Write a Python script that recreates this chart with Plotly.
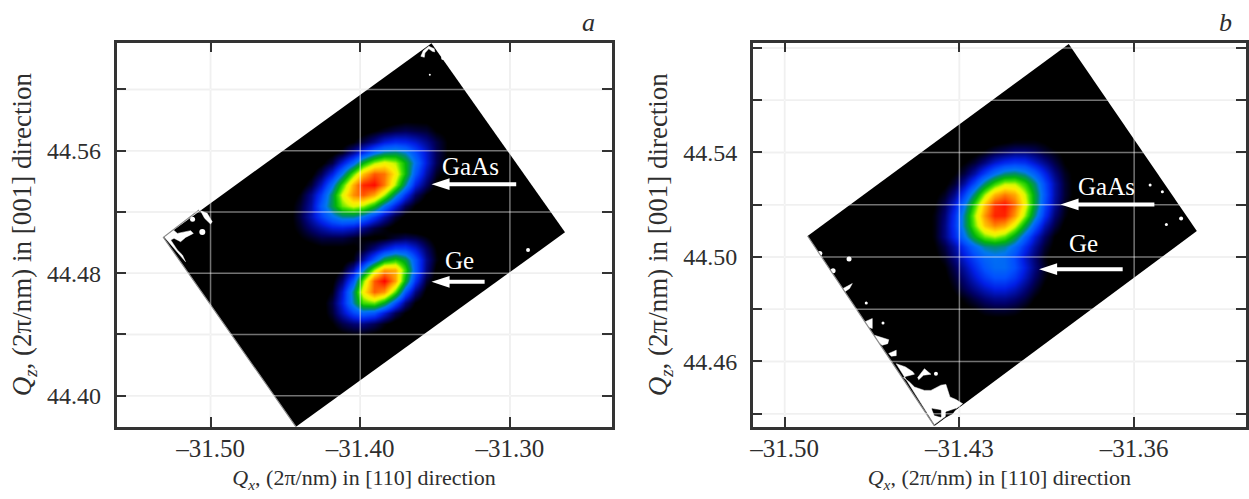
import plotly.graph_objects as go

W, H = 1249, 499
INK = "#2e2e2e"
FONT = "Liberation Serif"

# ---------- Panel a: axes ----------
a_xrange = [-31.5628, -31.2321]
a_yrange = [44.3798, 44.6305]
a_xticks = [-31.50, -31.40, -31.30]
a_xlabels = ["–31.50", "–31.40", "–31.30"]
a_yticks = [44.40, 44.48, 44.56]
a_ylabels = ["44.40", "44.48", "44.56"]
a_yminor = [44.44, 44.52, 44.60]

# scan footprint corners (left, top, right, bottom)
a_frame_x = [-31.5315, -31.3524, -31.2632, -31.4429]
a_frame_y = [44.5034, 44.6302, 44.5067, 44.3797]

# intensity, 0-100, rows from high Qz to low Qz
a_qx = [-31.454, -31.447, -31.440, -31.433, -31.426, -31.419, -31.412, -31.405, -31.398, -31.391,
        -31.384, -31.377, -31.370, -31.363, -31.356, -31.349, -31.342, -31.335, -31.328]
a_qz = [44.580, 44.573, 44.566, 44.559, 44.552, 44.545, 44.538, 44.531, 44.524, 44.517, 44.510,
        44.503, 44.496, 44.489, 44.482, 44.475, 44.468, 44.461, 44.454, 44.447, 44.440]
a_intensity = [
    [0, 0, 0, 0, 0, 0, 0, 0, 0, 0, 1, 2, 3, 3, 3, 2, 1, 0, 0],
    [0, 0, 0, 0, 0, 0, 0, 1, 2, 4, 6, 8, 9, 8, 7, 4, 3, 1, 0],
    [0, 0, 0, 0, 0, 1, 2, 4, 8, 13, 19, 22, 21, 18, 13, 8, 4, 2, 0],
    [0, 0, 0, 0, 1, 3, 6, 14, 23, 34, 41, 43, 38, 28, 18, 9, 4, 2, 0],
    [0, 0, 0, 1, 3, 8, 19, 32, 50, 63, 69, 64, 50, 34, 19, 9, 3, 1, 0],
    [0, 0, 1, 3, 9, 20, 36, 59, 78, 90, 87, 71, 51, 29, 15, 6, 2, 1, 0],
    [0, 1, 2, 7, 17, 34, 56, 80, 96, 99, 86, 63, 40, 20, 10, 3, 1, 0, 0],
    [1, 2, 5, 13, 25, 44, 67, 84, 90, 81, 63, 40, 23, 10, 4, 1, 0, 0, 0],
    [1, 3, 7, 15, 30, 45, 60, 67, 63, 51, 34, 20, 9, 4, 1, 0, 0, 0, 0],
    [1, 3, 8, 16, 25, 34, 40, 40, 34, 24, 15, 7, 3, 1, 0, 0, 0, 0, 0],
    [1, 3, 6, 11, 15, 19, 20, 18, 13, 8, 5, 2, 1, 0, 0, 0, 0, 0, 0],
    [1, 2, 4, 6, 8, 8, 8, 6, 4, 3, 4, 7, 9, 8, 5, 2, 0, 0, 0],
    [1, 1, 2, 2, 3, 3, 3, 3, 6, 12, 19, 25, 25, 19, 10, 4, 1, 0, 0],
    [0, 0, 0, 0, 1, 1, 2, 5, 15, 30, 47, 54, 46, 29, 13, 5, 1, 0, 0],
    [0, 0, 0, 0, 0, 1, 5, 15, 36, 63, 82, 80, 56, 30, 12, 3, 1, 0, 0],
    [0, 0, 0, 0, 1, 3, 11, 29, 61, 90, 100, 82, 49, 23, 7, 2, 0, 0, 0],
    [0, 0, 0, 0, 1, 5, 18, 41, 71, 89, 83, 58, 29, 12, 3, 1, 0, 0, 0],
    [0, 0, 0, 0, 2, 8, 20, 39, 57, 60, 48, 28, 12, 4, 1, 0, 0, 0, 0],
    [0, 0, 0, 0, 2, 7, 16, 26, 32, 29, 19, 9, 4, 1, 0, 0, 0, 0, 0],
    [0, 0, 0, 0, 2, 4, 8, 11, 12, 9, 5, 2, 1, 0, 0, 0, 0, 0, 0],
    [0, 0, 0, 0, 1, 2, 3, 4, 4, 3, 2, 1, 0, 0, 0, 0, 0, 0, 0],
]

# unmeasured (white) patches
a_blank_patches = [
    [(-31.5310, 44.5038), (-31.5248, 44.5082), (-31.5222, 44.5060), (-31.5133, 44.5078), (-31.5115, 44.5060),
     (-31.5167, 44.5034), (-31.5200, 44.5006), (-31.5244, 44.5028), (-31.5266, 44.5017), (-31.5222, 44.4952),
     (-31.5188, 44.4919), (-31.5167, 44.4875)],
    [(-31.5067, 44.5208), (-31.5022, 44.5191), (-31.4989, 44.5136), (-31.5000, 44.5121), (-31.5040, 44.5159)],
    [(-31.3595, 44.6216), (-31.3579, 44.6253), (-31.3542, 44.6282), (-31.3506, 44.6266), (-31.3502, 44.6245),
     (-31.3519, 44.6249), (-31.3542, 44.6266), (-31.3568, 44.6238), (-31.3572, 44.6210)],
]
a_speck_x = [-31.5055, -31.5120, -31.3446, -31.3535, -31.2879]
a_speck_y = [44.5069, 44.5152, 44.6205, 44.6096, 44.4952]
a_speck_size = [6, 5, 4, 2, 4]
a_edge_x = [-31.5077, -31.5315, -31.4429]
a_edge_y = [44.5213, 44.5034, 44.3797]

a_text_labels = ["GaAs", "Ge"]
a_text_x = [-31.3264, -31.3338]
a_text_y = [44.5494, 44.4886]
a_arrow_tail_x = [-31.2958, -31.3169]
a_arrow_neck_x = [-31.3455, -31.3455]
a_arrow_head_x = [-31.3524, -31.3524]
a_arrow_y = [44.5381, 44.4744]

# ---------- Panel b: axes ----------
b_xrange = [-31.5128, -31.3152]
b_yrange = [44.4350, 44.5820]
b_xticks = [-31.50, -31.43, -31.36]
b_xlabels = ["–31.50", "–31.43", "–31.36"]
b_yticks = [44.46, 44.50, 44.54]
b_ylabels = ["44.46", "44.50", "44.54"]
b_yminor = [44.44, 44.48, 44.52, 44.56, 44.58]

b_frame_x = [-31.4908, -31.3862, -31.3349, -31.4400]
b_frame_y = [44.5080, 44.5815, 44.5099, 44.4353]

b_qx = [-31.448, -31.444, -31.440, -31.436, -31.432, -31.428, -31.424, -31.420, -31.416,
        -31.412, -31.408, -31.404, -31.400, -31.396, -31.392, -31.388, -31.384, -31.380]
b_qz = [44.556, 44.552, 44.548, 44.544, 44.540, 44.536, 44.532, 44.528, 44.524, 44.520, 44.516, 44.512,
        44.508, 44.504, 44.500, 44.496, 44.492, 44.488, 44.484, 44.480, 44.476, 44.472, 44.468]
b_intensity = [
    [0, 0, 0, 0, 0, 0, 0, 0, 0, 0, 0, 0, 0, 0, 0, 0, 0, 0],
    [0, 0, 0, 0, 0, 0, 0, 0, 0, 0, 0, 0, 0, 0, 0, 0, 0, 0],
    [0, 0, 0, 0, 0, 0, 0, 0, 1, 1, 2, 2, 2, 1, 1, 0, 0, 0],
    [0, 0, 0, 0, 0, 0, 1, 2, 3, 4, 5, 5, 5, 4, 2, 1, 1, 0],
    [0, 0, 0, 0, 1, 1, 3, 5, 8, 10, 12, 12, 10, 7, 5, 3, 1, 0],
    [0, 0, 0, 1, 2, 4, 7, 12, 18, 22, 24, 23, 18, 13, 8, 4, 2, 1],
    [0, 0, 1, 2, 4, 8, 15, 25, 34, 41, 43, 39, 31, 21, 12, 6, 3, 1],
    [0, 0, 1, 3, 7, 15, 27, 42, 55, 64, 64, 55, 42, 27, 15, 7, 3, 1],
    [0, 1, 3, 6, 13, 26, 43, 63, 79, 86, 81, 66, 47, 29, 15, 7, 3, 1],
    [0, 1, 4, 9, 19, 35, 56, 77, 94, 98, 88, 70, 47, 27, 14, 6, 2, 1],
    [1, 2, 5, 11, 23, 41, 63, 83, 96, 96, 83, 63, 41, 23, 11, 5, 2, 1],
    [1, 2, 5, 12, 24, 41, 60, 77, 85, 81, 67, 48, 30, 16, 8, 3, 1, 0],
    [1, 2, 5, 12, 22, 35, 49, 60, 64, 59, 47, 32, 19, 10, 4, 2, 1, 0],
    [1, 2, 4, 8, 15, 24, 33, 40, 42, 40, 33, 23, 14, 7, 3, 1, 0, 0],
    [1, 1, 3, 6, 12, 19, 26, 32, 34, 33, 27, 18, 11, 5, 2, 0, 0, 0],
    [0, 1, 2, 4, 9, 15, 22, 29, 33, 33, 28, 20, 12, 6, 2, 1, 0, 0],
    [0, 1, 1, 3, 7, 12, 18, 24, 28, 28, 24, 17, 10, 5, 2, 0, 0, 0],
    [0, 0, 1, 2, 5, 9, 13, 17, 20, 20, 17, 12, 7, 3, 1, 0, 0, 0],
    [0, 0, 1, 1, 3, 5, 8, 11, 13, 13, 11, 8, 4, 2, 1, 0, 0, 0],
    [0, 0, 0, 1, 2, 3, 4, 6, 7, 7, 6, 4, 2, 1, 0, 0, 0, 0],
    [0, 0, 0, 0, 1, 1, 2, 3, 3, 3, 3, 2, 1, 0, 0, 0, 0, 0],
    [0, 0, 0, 0, 0, 1, 1, 1, 1, 1, 1, 1, 0, 0, 0, 0, 0, 0],
    [0, 0, 0, 0, 0, 0, 0, 0, 0, 0, 0, 0, 0, 0, 0, 0, 0, 0],
]

b_blank_patches = [
    [(-31.4553, 44.4591), (-31.4516, 44.4579), (-31.4487, 44.4560), (-31.4480, 44.4551), (-31.4513, 44.4543),
     (-31.4524, 44.4538), (-31.4500, 44.4521), (-31.4480, 44.4502), (-31.4440, 44.4489), (-31.4414, 44.4489),
     (-31.4374, 44.4509), (-31.4354, 44.4512), (-31.4338, 44.4464), (-31.4314, 44.4454), (-31.4287, 44.4438),
     (-31.4400, 44.4358)],
    [(-31.4467, 44.4538), (-31.4440, 44.4572), (-31.4414, 44.4551), (-31.4444, 44.4547), (-31.4463, 44.4530)],
    [(-31.4640, 44.4700), (-31.4583, 44.4683), (-31.4587, 44.4668), (-31.4609, 44.4662), (-31.4626, 44.4674)],
    [(-31.4766, 44.4879), (-31.4729, 44.4898), (-31.4740, 44.4879), (-31.4760, 44.4866)],
    [(-31.4680, 44.4751), (-31.4649, 44.4764), (-31.4649, 44.4726), (-31.4666, 44.4732)],
    [(-31.4583, 44.4630), (-31.4553, 44.4643), (-31.4553, 44.4622), (-31.4573, 44.4620)],
]
b_dark_holes = [
    [(-31.4410, 44.4419), (-31.4374, 44.4413), (-31.4374, 44.4387), (-31.4400, 44.4394)],
    [(-31.4354, 44.4406), (-31.4314, 44.4419), (-31.4327, 44.4400), (-31.4354, 44.4387)],
]
b_speck_x = [-31.4742, -31.4806, -31.4673, -31.4606, -31.4394, -31.4859, -31.3536, -31.3487, -31.3412, -31.3471]
b_speck_y = [44.4992, 44.4947, 44.4824, 44.4747, 44.4553, 44.5013, 44.5275, 44.5249, 44.5147, 44.5124]
b_speck_size = [5, 5, 3, 3, 4, 5, 3, 3, 4, 3]
b_edge_x = [-31.4908, -31.4400]
b_edge_y = [44.5080, 44.4353]

b_text_labels = ["GaAs", "Ge"]
b_text_x = [-31.3710, -31.3802]
b_text_y = [44.5271, 44.5053]
b_arrow_tail_x = [-31.3519, -31.3646]
b_arrow_neck_x = [-31.3853, -31.3939]
b_arrow_head_x = [-31.3895, -31.3981]
b_arrow_y = [44.5201, 44.4953]

# colour map
jet_stops = [0, 0.02, 0.04, 0.10, 0.20, 0.28, 0.36, 0.42, 0.50, 0.58, 0.66, 0.72, 0.82, 0.92, 1.0]
jet_colors = ["rgba(0,0,0,0)", "rgba(0,0,0,0)", "rgb(0,0,0)", "rgb(0,0,100)", "rgb(0,30,230)", "rgb(0,80,255)",
              "rgb(0,120,240)", "rgb(0,140,110)", "rgb(0,180,10)", "rgb(70,225,0)", "rgb(220,250,0)",
              "rgb(255,235,0)", "rgb(255,160,0)", "rgb(255,70,0)", "rgb(255,0,0)"]

a_domain_x = [114 / W, 611 / W]
b_domain_x = [752.7 / W, 1248 / W]
domain_y = [1 - 426.7 / H, 1 - 42.7 / H]

fig = go.Figure()
fig.update_layout(
    width=W, height=H, autosize=False, showlegend=False, hovermode=False,
    margin=dict(l=0, r=0, t=0, b=0), paper_bgcolor="white", plot_bgcolor="white",
    font=dict(family=FONT, color=INK, size=24),
)


def join(patches, i):
    out = []
    for p in patches:
        out += [pt[i] for pt in p] + [p[0][i], None]
    return out


def panel(suffix, dom, xr, yr, xt, xl, yt, yl, ym, fx, fy, qx, qz, z, patches, holes, sx, sy, ss, ex, ey,
          tl, tx, ty, atail, aneck, ahead, ay, letter, letter_x):
    xa, ya = "x" + suffix, "y" + suffix
    fig.add_trace(go.Heatmap(x=qx, y=qz, z=z, zmin=0, zmax=100, zsmooth="best", showscale=False,
                             colorscale=[[s, c] for s, c in zip(jet_stops, jet_colors)], xaxis=xa, yaxis=ya))
    if patches:
        fig.add_trace(go.Scatter(x=join(patches, 0), y=join(patches, 1), mode="lines", fill="toself",
                                 fillcolor="white", line=dict(color="white", width=0.5), xaxis=xa, yaxis=ya))
    if holes:
        fig.add_trace(go.Scatter(x=join(holes, 0), y=join(holes, 1), mode="lines", fill="toself",
                                 fillcolor="black", line=dict(color="black", width=0.5), xaxis=xa, yaxis=ya))
    fig.add_trace(go.Scatter(x=sx, y=sy, mode="markers",
                             marker=dict(color="white", opacity=1, size=ss, line=dict(width=0)),
                             xaxis=xa, yaxis=ya))
    fig.add_trace(go.Scatter(x=ex, y=ey, mode="lines", line=dict(color="#8c8c8c", width=1.2), xaxis=xa, yaxis=ya))
    # grid: light on the white paper, lower in the stack than the black footprint ...
    all_y = sorted(list(yt) + list(ym))
    for v in xt:
        fig.add_shape(type="line", layer="below", xref=xa, yref=ya, x0=v, x1=v, y0=yr[0], y1=yr[1],
                      line=dict(color="#e3e3e3", width=1.5))
    for v in all_y:
        fig.add_shape(type="line", layer="below", xref=xa, yref=ya, x0=xr[0], x1=xr[1], y0=v, y1=v,
                      line=dict(color="#e3e3e3", width=1.5))
    fig.add_shape(type="path", layer="below", xref=xa, yref=ya, fillcolor="black", line=dict(width=0),
                  path="M " + " L ".join(f"{px} {py}" for px, py in zip(fx, fy)) + " Z")
    # ... and showing through the footprint as a translucent overlay
    gx, gy = [], []
    for v in xt:
        gx += [v, v, None]
        gy += [yr[0], yr[1], None]
    for v in all_y:
        gx += [xr[0], xr[1], None]
        gy += [v, v, None]
    fig.add_trace(go.Scatter(x=gx, y=gy, mode="lines", line=dict(color="rgba(255,255,255,0.45)", width=1.5),
                             xaxis=xa, yaxis=ya))

    # white arrows: shaft plus a left-pointing tip
    sx2, sy2 = [], []
    for t0, n0, y0 in zip(atail, aneck, ay):
        sx2 += [t0, n0, None]
        sy2 += [y0, y0, None]
    fig.add_trace(go.Scatter(x=sx2, y=sy2, mode="lines", line=dict(color="white", width=4), xaxis=xa, yaxis=ya))
    fig.add_trace(go.Scatter(x=ahead, y=ay, mode="markers", xaxis=xa, yaxis=ya,
                             marker=dict(symbol="arrow", angle=-90, size=19, color="white", line=dict(width=0))))

    for t, x, y in zip(tl, tx, ty):
        fig.add_annotation(text=t, x=x, y=y, xref=xa, yref=ya, showarrow=False,
                           font=dict(color="white", size=25, family=FONT))
    fig.add_annotation(text=f"<i>{letter}</i>", x=letter_x, y=1 - 22 / H, xref="paper", yref="paper",
                       xanchor="center", yanchor="middle", showarrow=False,
                       font=dict(size=26, family=FONT, color=INK))
    common = dict(showline=True, linecolor="#333333", linewidth=2.5, mirror="ticks", ticks="inside", ticklen=10,
                  tickwidth=1.5, tickcolor="#333333", showgrid=False, zeroline=False, tickmode="array")
    fig.update_layout(**{
        "xaxis" + suffix: dict(common, domain=dom, range=xr, tickvals=xt, ticktext=xl, anchor=ya,
                               ticklabelstandoff=-2, tickfont=dict(size=25, family=FONT, color=INK),
                               title=dict(text="<i>Q<sub>x</sub></i>, (2π/nm) in [110] direction",
                                          font=dict(size=22, family=FONT, color=INK), standoff=9)),
        "yaxis" + suffix: dict(common, domain=domain_y, range=yr, tickvals=yt, ticktext=yl, anchor=xa,
                               ticklabelstandoff=8, tickfont=dict(size=24, family=FONT, color=INK),
                               minor=dict(tickmode="array", tickvals=ym, ticks="inside", ticklen=10, tickwidth=1.5,
                                          tickcolor="#333333", showgrid=False),
                               title=dict(text="<i>Q<sub>z</sub></i>, (2π/nm) in [001] direction",
                                          font=dict(size=27, family=FONT, color=INK), standoff=8)),
    })


panel("", a_domain_x, a_xrange, a_yrange, a_xticks, a_xlabels, a_yticks, a_ylabels, a_yminor, a_frame_x, a_frame_y,
      a_qx, a_qz, a_intensity, a_blank_patches, [], a_speck_x, a_speck_y, a_speck_size, a_edge_x, a_edge_y,
      a_text_labels, a_text_x, a_text_y, a_arrow_tail_x, a_arrow_neck_x, a_arrow_head_x, a_arrow_y, "a", 588 / W)
panel("2", b_domain_x, b_xrange, b_yrange, b_xticks, b_xlabels, b_yticks, b_ylabels, b_yminor, b_frame_x, b_frame_y,
      b_qx, b_qz, b_intensity, b_blank_patches, b_dark_holes, b_speck_x, b_speck_y, b_speck_size, b_edge_x, b_edge_y,
      b_text_labels, b_text_x, b_text_y, b_arrow_tail_x, b_arrow_neck_x, b_arrow_head_x, b_arrow_y, "b", 1227 / W)

fig.write_html("out.html", config={"displayModeBar": False},
               post_script="document.body.style.margin='0';document.body.style.overflow='hidden';")
